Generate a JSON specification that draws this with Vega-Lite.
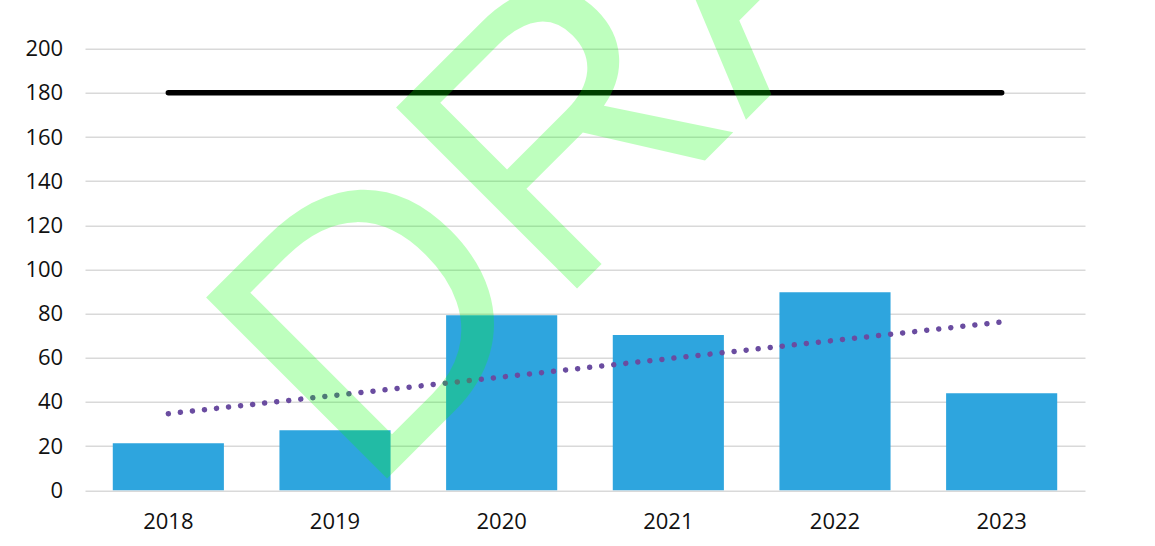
{
  "$schema": "https://vega.github.io/schema/vega-lite/v6.json",
  "width": 1000,
  "height": 441.6,
  "autosize": "none",
  "padding": {"left": 85, "top": 48.7, "right": 70, "bottom": 55.7},
  "background": "white",
  "config": {
    "view": {"stroke": null},
    "font": "Open Sans",
    "axis": {"labelFont": "Open Sans", "labelFontSize": 22, "labelColor": "#111111", "title": null, "domain": false, "ticks": false}
  },
  "datasets": {
    "years": [
      {"year": "2018", "value": 21.3, "target": 180},
      {"year": "2019", "value": 27.2, "target": 180},
      {"year": "2020", "value": 79.3, "target": 180},
      {"year": "2021", "value": 70.3, "target": 180},
      {"year": "2022", "value": 89.7, "target": 180},
      {"year": "2023", "value": 43.9, "target": 180}
    ],
    "trend": [
      {"year": "2018", "trend": 34.7},
      {"year": "2023", "trend": 76.2}
    ]
  },
  "layer": [
    {
      "data": {"name": "years"},
      "mark": {"type": "bar", "color": "#2EA5DE"},
      "encoding": {
        "x": {
          "field": "year", "type": "nominal",
          "scale": {"paddingInner": 0.3333, "paddingOuter": 0.1667},
          "axis": {"labelAngle": 0, "labelPadding": 21.3, "grid": false}
        },
        "y": {
          "field": "value", "type": "quantitative",
          "scale": {"domain": [0, 200], "nice": false},
          "axis": {"values": [0, 20, 40, 60, 80, 100, 120, 140, 160, 180, 200], "labelPadding": 22.3, "grid": true, "gridColor": "#d9d9d9", "gridWidth": 1.5}
        }
      }
    },
    {
      "data": {"name": "years"},
      "mark": {"type": "line", "color": "#000000", "strokeWidth": 5.5, "strokeCap": "round"},
      "encoding": {
        "x": {"field": "year", "type": "nominal"},
        "y": {"field": "target", "type": "quantitative"}
      }
    },
    {
      "data": {"name": "trend"},
      "mark": {"type": "line", "color": "#6A4CA0", "strokeWidth": 5.5, "strokeCap": "round", "strokeDash": [0.01, 12.1]},
      "encoding": {
        "x": {"field": "year", "type": "nominal"},
        "y": {"field": "trend", "type": "quantitative"}
      }
    },
    {
      "data": {"values": [{}]},
      "mark": {"type": "text", "font": "Liberation Sans", "fontSize": 372, "angle": -45, "align": "center", "baseline": "alphabetic", "color": "#00ff00", "opacity": 0.25, "dx": -44},
      "encoding": {
        "x": {"datum": "2022", "type": "nominal"},
        "y": {"datum": 208.2, "type": "quantitative"},
        "text": {"value": "DRAFT"}
      }
    }
  ]
}
